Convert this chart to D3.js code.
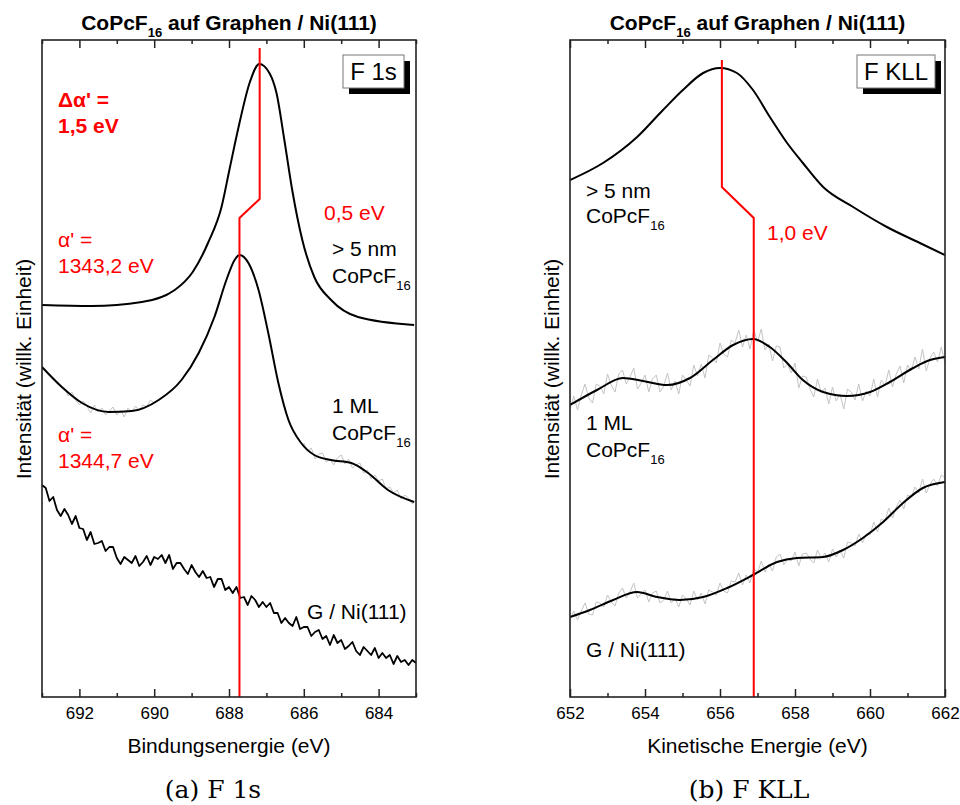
<!DOCTYPE html>
<html>
<head>
<meta charset="utf-8">
<script src="https://cdn.jsdelivr.net/npm/d3@7"></script>
<style>
  body { margin: 0; background: #fff; }
  text { font-family: "Liberation Sans", Arial, sans-serif; }
</style>
</head>
<body>
<svg id="fig" width="960" height="805"></svg>
<script>

// ---------- data (energy in eV, intensity in arbitrary units) ----------

// F 1s, fitted curves [eV, intensity]
let f1s_thick = [[693.0,392],[691.67,391],[690.33,395],[689.45,407],[688.97,425],[688.55,455],[688.2,490],[687.99,527],
  [687.72,574],[687.45,614],[687.19,633],[686.92,624],[686.73,604],[686.52,557],[686.31,507],[686.04,457],[685.72,420],
  [685.27,397],[684.55,380],[683.05,372]];
let f1s_ml = [[693.0,330],[692.47,310],[691.93,294],[691.21,285],[690.6,286],[689.88,297],[689.27,317],[688.81,344],
  [688.39,380],[688.07,417],[687.85,437],[687.72,442],[687.48,434],[687.21,407],[686.95,364],[686.68,314],[686.41,277],
  [686.07,254],[685.72,242],[685.27,237],[684.73,234],[684.28,224],[683.75,207],[683.05,195]];
// F 1s, G / Ni(111) raw spectrum, 693.0 -> 683.0 eV in 0.1 eV steps
let f1s_gni = [212,209,196,200,187,181,188,182,173,181,169,168,157,165,153,154,156,146,150,150,
  139,133,140,137,134,141,131,135,141,132,140,138,142,134,142,128,134,134,128,123,
  132,125,120,126,119,120,110,118,118,107,110,104,110,99,100,92,101,97,90,95,
  90,94,84,84,74,79,74,71,80,68,70,70,61,65,67,58,61,52,62,54,
  57,48,51,55,46,42,50,46,42,49,39,44,39,42,33,41,35,37,32,37,34];
// F 1s, 1 ML raw spectrum pieces (0.1 eV steps downward from 692.4 and 686.0 eV)
let f1s_ml_raw1 = [309,301,305,297,292,296,291,284,292,285,289,282,286,290,282,287,280,289,285,291,286,292,290,297,294];
let f1s_ml_raw2 = [254,246,249,238,243,244,235,238,232,239,242,233,238,229,232,234,224,227,218,222,
  216,218,208,210,204,207,198,202,199,193,197];

// F KLL, fitted curves [eV, intensity]
let fkll_thick = [[652.0,517],[652.88,534],[653.79,560],[654.48,587],[655.01,607],[655.55,624],[656.0,629],[656.45,624],
  [656.88,607],[657.33,580],[657.79,554],[658.21,534],[658.75,510],[659.55,490],[660.45,470],[661.33,454],[662.0,442]];
let fkll_ml = [[652.0,292],[652.72,307],[653.41,319],[653.95,316],[654.59,312],[655.2,319],[655.81,337],[656.35,352],
  [656.88,358],[657.33,350],[657.79,334],[658.21,317],[658.75,305],[659.39,301],[660.0,305],[660.53,315],[661.15,329],
  [661.6,337],[662.0,340]];
let fkll_gni = [[652.0,80],[652.53,87],[653.15,97],[653.79,105],[654.32,100],[654.93,97],[655.55,100],[656.19,109],
  [656.88,122],[657.52,135],[658.05,139],[658.75,140],[659.28,147],[659.81,159],[660.35,175],[660.88,194],[661.41,209],
  [662.0,215]];
// F KLL raw spectra, 652.0 -> 662.0 eV in 0.1 eV steps
let fkll_ml_raw = [287,301,287,302,313,299,294,313,311,303,323,312,305,323,327,313,320,329,308,314,
  322,305,318,322,305,311,324,307,316,303,322,317,311,332,321,333,319,342,339,334,
  354,343,340,357,354,367,350,362,348,367,355,368,347,353,336,351,350,329,333,324,
  334,309,321,320,308,300,318,304,309,293,310,296,303,288,308,305,297,313,296,306,
  301,318,300,317,311,327,310,323,331,314,332,326,340,328,348,326,339,345,335,350,334];
let fkll_gni_raw = [77,86,77,86,94,83,82,95,94,90,102,95,91,104,109,99,105,114,99,103,
  107,95,104,106,94,97,106,94,99,90,102,98,92,106,97,104,93,107,105,102,
  114,106,104,116,115,124,112,122,114,129,124,136,125,133,126,140,143,132,138,136,
  145,131,143,144,138,134,147,139,144,135,148,140,147,139,155,154,151,163,154,163,
  162,175,165,178,176,189,179,190,197,188,202,200,210,204,218,204,213,218,211,222,219];

// red marker lines
let f1s_marker = [[687.72,0],[687.72,479],[687.18,498],[687.18,649]];
let fkll_marker = [[656.05,637],[656.05,510],[656.9,479],[656.9,0]];

// axis ticks
let f1s_major = [692,690,688,686,684];
let f1s_minor = [693,691,689,687,685,683];
let fkll_major = [652,654,656,658,660,662];
let fkll_minor = [653,655,657,659,661];

// ---------- drawing ----------

let svg = d3.select("#fig");
let top_y = 40, bottom_y = 697;

function raw_points(vals, start, step){
  return vals.map(function(v,i){ return [start + i*step, v]; });
}

// write text with optional subscript parts: parts = [[str, isSub], ...]
function label(x, y, parts, opts){
  opts = opts || {};
  let t = svg.append("text")
    .attr("x", x).attr("y", y)
    .attr("font-size", opts.size || 21)
    .attr("font-weight", opts.bold ? "bold" : null)
    .attr("fill", opts.color || "#000")
    .attr("text-anchor", opts.anchor || "start");
  let shifted = false;
  parts.forEach(function(p){
    let s = t.append("tspan").text(p[0]);
    if (p[1]) { s.attr("font-size", opts.subSize || 13).attr("dy", 7); shifted = true; }
    else if (shifted) { s.attr("dy", -7); shifted = false; }
  });
  return t;
}

function draw_panel(cfg){
  let x = d3.scaleLinear().domain(cfg.domain).range([cfg.x0, cfg.x1]);
  let y = d3.scaleLinear().domain([0,657]).range([bottom_y, top_y]);
  let g = svg.append("g");

  let line = d3.line().x(function(d){ return x(d[0]); }).y(function(d){ return y(d[1]); });
  let smooth = d3.line().curve(d3.curveMonotoneX)
                 .x(function(d){ return x(d[0]); }).y(function(d){ return y(d[1]); });

  g.append("defs").append("clipPath").attr("id", cfg.id + "clip")
    .append("rect").attr("x", cfg.x0).attr("y", top_y)
    .attr("width", cfg.x1 - cfg.x0).attr("height", bottom_y - top_y);
  let plot = g.append("g").attr("clip-path", "url(#" + cfg.id + "clip)");

  cfg.raw.forEach(function(r){
    plot.append("path").attr("d", line(r)).attr("fill","none")
      .attr("stroke","#c4c4c4").attr("stroke-width",1);
  });
  cfg.noisy.forEach(function(r){
    plot.append("path").attr("d", line(r)).attr("fill","none")
      .attr("stroke","#000").attr("stroke-width",1.8).attr("stroke-linejoin","round");
  });
  cfg.fits.forEach(function(r){
    plot.append("path").attr("d", smooth(r)).attr("fill","none")
      .attr("stroke","#000").attr("stroke-width",2);
  });
  plot.append("path").attr("d", line(cfg.marker)).attr("fill","none")
    .attr("stroke","#f00").attr("stroke-width",2);

  // axes: ticks point inward, top and bottom
  let bottom = g.append("g").attr("transform","translate(0," + bottom_y + ")")
    .call(d3.axisBottom(x).tickValues(cfg.major).tickSize(-8).tickPadding(10).tickFormat(d3.format("d")));
  g.append("g").attr("transform","translate(0," + bottom_y + ")")
    .call(d3.axisBottom(x).tickValues(cfg.minor).tickSize(-4).tickFormat(""));
  g.append("g").attr("transform","translate(0," + top_y + ")")
    .call(d3.axisTop(x).tickValues(cfg.major).tickSize(-8).tickFormat(""));
  g.append("g").attr("transform","translate(0," + top_y + ")")
    .call(d3.axisTop(x).tickValues(cfg.minor).tickSize(-4).tickFormat(""));
  g.selectAll(".domain").remove();
  g.selectAll(".tick line").attr("stroke","#222").attr("stroke-width",1.5);
  bottom.selectAll(".tick text").attr("font-size",17).attr("fill","#000")
    .style("font-family","'Liberation Sans', Arial, sans-serif");

  g.append("rect").attr("x",cfg.x0).attr("y",top_y)
    .attr("width",cfg.x1-cfg.x0).attr("height",bottom_y-top_y)
    .attr("fill","none").attr("stroke","#222").attr("stroke-width",1.6);

  let cx = (cfg.x0 + cfg.x1)/2;
  label(cx, 30, [["CoPcF"],["16",true],[" auf Graphen / Ni(111)"]], {bold:true, size:21, anchor:"middle", subSize:13});
  label(cx, 753, [[cfg.xlabel]], {size:21, anchor:"middle"});
  svg.append("text").attr("transform","translate(" + (cfg.x0-11) + ",369) rotate(-90)")
    .attr("text-anchor","middle").attr("font-size",21).text("Intensität (willk. Einheit)");

  // name box with shadow
  let b = cfg.box;
  svg.append("rect").attr("x",b[0]+6).attr("y",b[1]+6).attr("width",b[2]).attr("height",33).attr("fill","#000");
  svg.append("rect").attr("x",b[0]).attr("y",b[1]).attr("width",b[2]).attr("height",33)
    .attr("fill","#fff").attr("stroke","#777").attr("stroke-width",1);
  label(b[0]+b[2]/2, b[1]+25, [[cfg.boxText]], {size:24, anchor:"middle"});

  svg.append("text").attr("x", cfg.capX).attr("y", 798).attr("text-anchor","middle")
    .style("font-family","'DejaVu Serif', 'Liberation Serif', serif").attr("font-size",25)
    .text(cfg.caption);
  return {x: x, y: y};
}

draw_panel({
  id: "a", domain: [693, 683], x0: 42, x1: 416,
  raw: [raw_points(f1s_ml_raw1, 692.4, -0.1), raw_points(f1s_ml_raw2, 686.0, -0.1)],
  noisy: [raw_points(f1s_gni, 693.0, -0.1)],
  fits: [f1s_thick, f1s_ml],
  marker: f1s_marker,
  major: f1s_major, minor: f1s_minor,
  xlabel: "Bindungsenergie (eV)",
  box: [343, 55, 61], boxText: "F 1s",
  caption: "(a) F 1s", capX: 213
});

draw_panel({
  id: "b", domain: [652, 662], x0: 570, x1: 945,
  raw: [raw_points(fkll_ml_raw, 652.0, 0.1), raw_points(fkll_gni_raw, 652.0, 0.1)],
  noisy: [],
  fits: [fkll_thick, fkll_ml, fkll_gni],
  marker: fkll_marker,
  major: fkll_major, minor: fkll_minor,
  xlabel: "Kinetische Energie (eV)",
  box: [857, 55, 78], boxText: "F KLL",
  caption: "(b) F KLL", capX: 749
});

// annotations, panel a
let red = "#f00";
label(58, 107, [["Δα' ="]], {color:red, bold:true});
label(58, 133, [["1,5 eV"]], {color:red, bold:true});
label(58, 247, [["α' ="]], {color:red});
label(58, 273, [["1343,2 eV"]], {color:red});
label(58, 442, [["α' ="]], {color:red});
label(58, 468, [["1344,7 eV"]], {color:red});
label(324, 220, [["0,5 eV"]], {color:red});
label(332, 256, [["> 5 nm"]]);
label(332, 283, [["CoPcF"],["16",true]]);
label(332, 413, [["1 ML"]]);
label(332, 440, [["CoPcF"],["16",true]]);
label(307, 619, [["G / Ni(111)"]]);

// annotations, panel b
label(767, 240, [["1,0 eV"]], {color:red});
label(586, 198, [["> 5 nm"]]);
label(586, 223, [["CoPcF"],["16",true]]);
label(586, 430, [["1 ML"]]);
label(586, 457, [["CoPcF"],["16",true]]);
label(586, 657, [["G / Ni(111)"]]);

</script>
</body>
</html>
